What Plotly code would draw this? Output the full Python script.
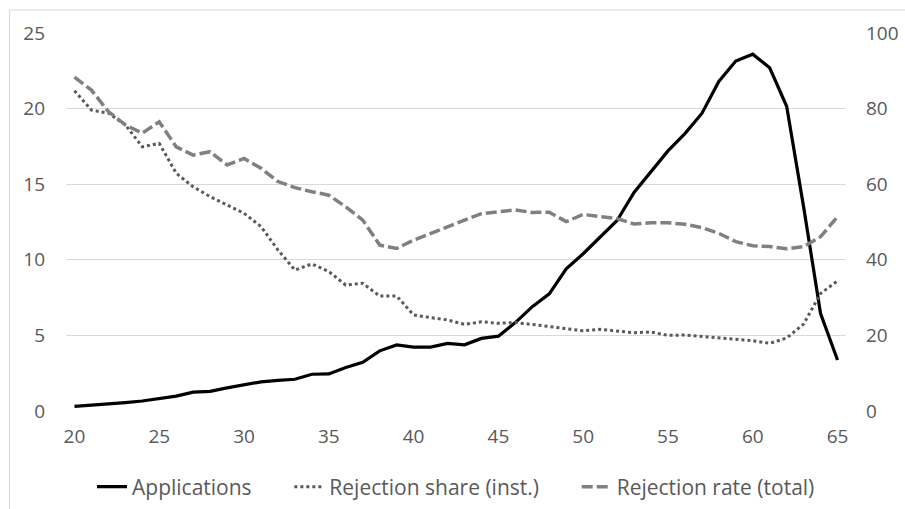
import plotly.graph_objects as go

ages = list(range(20, 66))

applications = [0.3, 0.37, 0.47, 0.56, 0.66, 0.8, 0.98, 1.25, 1.3, 1.53, 1.75, 1.93, 2.03, 2.1, 2.43, 2.45,
                2.88, 3.22, 3.98, 4.37, 4.23, 4.23, 4.47, 4.38, 4.8, 4.95, 5.85, 6.9, 7.75, 9.4,
                10.4, 11.5, 12.6, 14.45, 15.82, 17.2, 18.35, 19.68, 21.8, 23.15, 23.6, 22.7, 20.15,
                13.5, 6.45, 3.37]

rejection_share = [84.7, 79.6, 78.8, 75.7, 69.9, 70.8, 62.9, 59.3, 56.7, 54.5, 52.3, 48.8, 42.6, 37.3,
                   38.9, 36.9, 33.3, 33.8, 30.4, 30.4, 25.4, 24.7, 24.1, 22.9, 23.6, 23.2, 23.4, 22.9,
                   22.3, 21.7, 21.2, 21.6, 21.2, 20.7, 20.9, 20.0, 20.1, 19.7, 19.2, 19.0, 18.6, 17.9,
                   19.3, 23.0, 31.1, 34.4]

rejection_rate = [88.3, 84.9, 79.2, 75.7, 73.5, 76.5, 69.9, 67.7, 68.6, 65.1, 66.8, 64.2, 60.7, 59.1,
                  58.0, 57.1, 54.0, 50.5, 43.9, 43.0, 45.2, 47.0, 48.9, 50.5, 52.2, 52.7, 53.2, 52.5,
                  52.6, 50.1, 52.0, 51.4, 50.9, 49.5, 49.8, 49.8, 49.4, 48.5, 47.0, 44.8, 43.7, 43.5,
                  42.9, 43.5, 46.1, 51.4]

left_ticks = [0, 5, 10, 15, 20, 25]
right_ticks = [0, 20, 40, 60, 80, 100]
x_ticks = [20, 25, 30, 35, 40, 45, 50, 55, 60, 65]

series_names = ["Applications", "Rejection share (inst.)", "Rejection rate (total)"]

FONT = "Open Sans"
TXT = "#595959"
PAD = "\u00a0" * 6  # spacing between legend entries

W, H = 905, 509
ML, MR, MT, MB = 66, 59, 33, 98
PW = W - ML - MR
PH = H - MT - MB

fig = go.Figure()
fig.add_trace(go.Scatter(x=ages, y=applications, name=series_names[0] + PAD, mode="lines",
                         line=dict(color="#000000", width=3.2), yaxis="y"))
fig.add_trace(go.Scatter(x=ages, y=rejection_share, name=series_names[1] + PAD, mode="lines",
                         line=dict(color="#595959", width=3, dash="3px,3px"), yaxis="y2"))
fig.add_trace(go.Scatter(x=ages, y=rejection_rate, name=series_names[2], mode="lines",
                         line=dict(color="#808080", width=3.5, dash="11px,4px"), yaxis="y2"))

fig.update_layout(
    width=W, height=H,
    margin=dict(l=ML, r=MR, t=MT, b=MB, autoexpand=False),
    paper_bgcolor="white", plot_bgcolor="white",
    font=dict(family=FONT, size=19, color=TXT),
    xaxis=dict(range=[19.5, 65.5], tickvals=x_ticks, showgrid=False, zeroline=False,
               showline=False, ticks="", ticklabelstandoff=12,
               tickfont=dict(size=19, color=TXT)),
    yaxis=dict(range=[0, 25], tickvals=left_ticks, showgrid=True, gridcolor="#d9d9d9",
               gridwidth=1, zeroline=False, showline=False, ticks="", ticklabelstandoff=20,
               tickfont=dict(size=19, color=TXT)),
    yaxis2=dict(range=[0, 100], tickvals=right_ticks, overlaying="y", side="right",
                showgrid=False, zeroline=False, showline=False, ticks="", ticklabelstandoff=19,
                tickfont=dict(size=19, color=TXT)),
    legend=dict(orientation="h", x=0.5, xanchor="center", y=-0.201,
                yanchor="middle", font=dict(size=21, color=TXT), bgcolor="rgba(0,0,0,0)"),
    showlegend=True,
    shapes=[dict(type="rect", xref="paper", yref="paper",
                 x0=(9.5 - ML) / PW, x1=1.2, y0=-0.4, y1=(MT + PH - 10) / PH,
                 line=dict(color="#d9d9d9", width=1), fillcolor="rgba(0,0,0,0)", layer="below")],
)

fig.write_html("out.html", config={"displayModeBar": False},
               post_script="document.body.style.margin='0px';")
